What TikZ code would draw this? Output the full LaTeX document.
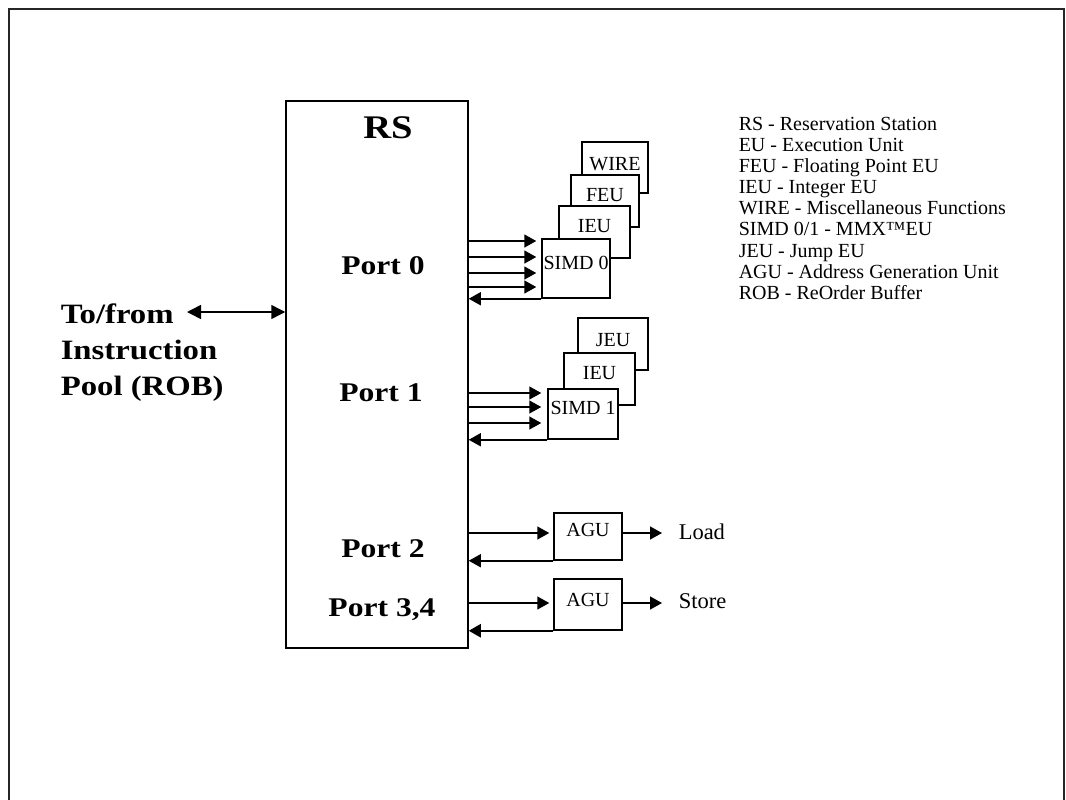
\documentclass[tikz,border=0pt]{standalone}
\usepackage{fontspec}
\setmainfont{Liberation Serif}
\newfontfamily\wideserif[FakeStretch=1.17]{Liberation Serif}
\usetikzlibrary{arrows.meta}
\begin{document}
\begin{tikzpicture}[x=1pt,y=-1pt,
  line width=1.5pt,
  box/.style={draw, fill=white, line width=1.5pt, inner sep=0pt, font=\fontsize{20}{21}\selectfont},
  arr/.style={-{Triangle[length=12pt,width=13pt]}},
  portlbl/.style={anchor=base, inner sep=0pt, font=\wideserif\bfseries\fontsize{27}{30}\selectfont},
  side/.style={anchor=west, inner sep=0pt, font=\fontsize{22.5}{24}\selectfont}
]
\useasboundingbox (0,0) rectangle (1066,800);
% outer frame
\draw[line width=2.5pt, black!85] (9,800) -- (9,9) -- (1064,9) -- (1064,800);

% reservation station
\node[draw, line width=1.5pt, minimum width=182pt, minimum height=547pt, inner sep=0pt] (RS) at (377,374.5) {};
\node[anchor=base, inner sep=0pt, font=\wideserif\bfseries\fontsize{33}{36}\selectfont] (rslbl) at (388,138) {RS};
\node[portlbl] (p0) at (383,274) {Port 0};
\node[portlbl] (p1) at (381,401) {Port 1};
\node[portlbl] (p2) at (383,557) {Port 2};
\node[portlbl] (p34) at (382,616) {Port 3,4};

% instruction pool
\node[anchor=north west, align=left, inner sep=0pt,
      font=\wideserif\bfseries\fontsize{28}{36}\selectfont] (pool) at (60,303)
  {To/from\\Instruction\\Pool (ROB)};
\coordinate (poolend) at (187,312);
\draw[{Triangle[length=14pt,width=14pt]}-{Triangle[length=14pt,width=14pt]}] (poolend) -- (RS.west |- poolend);

% port 0 units (back to front)
\node[box, minimum width=66pt, minimum height=51pt] (wire) at (615,167.5) {\raisebox{8pt}{WIRE}};
\node[box, minimum width=68pt, minimum height=52pt] (feu) at (605,201) {\raisebox{13pt}{FEU}};
\node[box, minimum width=71pt, minimum height=52pt] (ieu0) at (594.5,232) {\raisebox{13pt}{IEU}};
\node[box, minimum width=68pt, minimum height=59pt] (simd0) at (576,268.5) {\raisebox{12pt}{SIMD 0}};
\foreach \yy in {241,257,273,287}
  \draw[arr, shorten >=5pt] (RS.east |- 0,\yy) -- (simd0.west |- 0,\yy);
\draw[arr] (simd0.south west) -- (RS.east |- simd0.south west);

% port 1 units
\node[box, minimum width=70pt, minimum height=52pt] (jeu) at (613,344) {\raisebox{9pt}{JEU}};
\node[box, minimum width=71pt, minimum height=52pt] (ieu1) at (599.5,379) {\raisebox{13pt}{IEU}};
\node[box, minimum width=70pt, minimum height=50pt] (simd1) at (583,414) {\raisebox{12pt}{SIMD 1}};
\foreach \yy in {393,407,423}
  \draw[arr, shorten >=6pt] (RS.east |- 0,\yy) -- (simd1.west |- 0,\yy);
\draw[arr] (simd1.south west) -- (RS.east |- simd1.south west);

% port 2
\node[box, minimum width=68pt, minimum height=47pt] (agu2) at (588,536.5) {\raisebox{13pt}{AGU}};
\draw[arr, shorten >=4pt] (RS.east |- 0,533) -- (agu2.west |- 0,533);
\draw[arr] (agu2.south west) -- (RS.east |- agu2.south west);
\node[side] (load) at (678,532) {Load};
\draw[arr, shorten >=16pt] (agu2.east |- 0,533) -- (load.west |- 0,533);

% port 3,4
\node[box, minimum width=68pt, minimum height=51pt] (agu34) at (588,604.5) {\raisebox{9pt}{AGU}};
\draw[arr, shorten >=4pt] (RS.east |- 0,603) -- (agu34.west |- 0,603);
\draw[arr, line width=2.5pt] (agu34.south west) -- (RS.east |- agu34.south west);
\node[side] (store) at (678,601.5) {Store};
\draw[arr, shorten >=16pt] (agu34.east |- 0,603) -- (store.west |- 0,603);

% legend
\node[anchor=north west, align=left, inner sep=0pt,
      font=\fontsize{20}{21.1}\selectfont] (legend) at (738,116.5)
  {RS - Reservation Station\\
   EU - Execution Unit\\
   FEU - Floating Point EU\\
   IEU - Integer EU\\
   WIRE - Miscellaneous Functions\\
   SIMD 0/1 - MMX™EU\\
   JEU - Jump EU\\
   AGU - Address Generation Unit\\
   ROB - ReOrder Buffer};
\end{tikzpicture}
\end{document}
